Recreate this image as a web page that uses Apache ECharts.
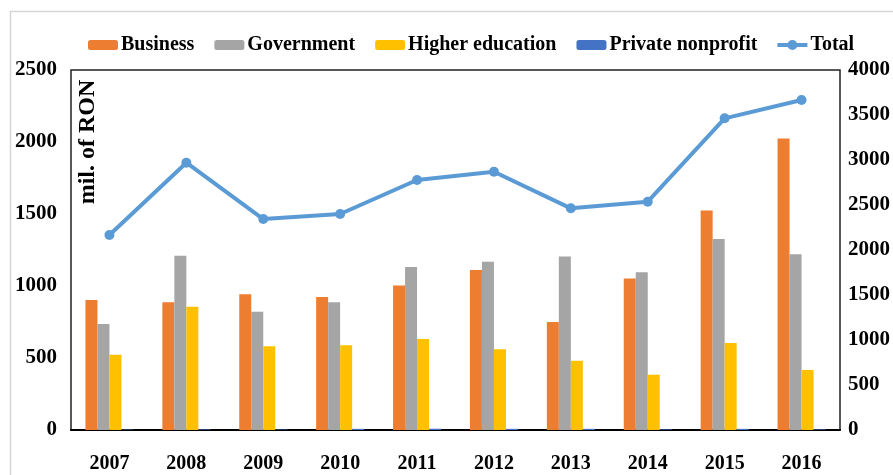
<!DOCTYPE html>
<html>
<head>
<meta charset="utf-8">
<script src="https://cdn.jsdelivr.net/npm/echarts@6/dist/echarts.min.js"></script>
<style>
  html, body { margin: 0; padding: 0; background: #fff; }
  #chart { width: 893px; height: 475px; }
</style>
</head>
<body>
<div id="chart"></div>
<script>
// years
const years = ["2007", "2008", "2009", "2010", "2011", "2012", "2013", "2014", "2015", "2016"];
// mil. of RON
const business = [903, 887, 942, 924, 1003, 1111, 750, 1052, 1524, 2024];
const government = [736, 1210, 822, 887, 1132, 1169, 1204, 1095, 1326, 1221];
const higherEducation = [523, 856, 581, 588, 632, 560, 481, 384, 604, 417];
const privateNonprofit = [3, 4, 3, 8, 9, 8, 8, 4, 8, 4];
const total = [2167, 2970, 2344, 2400, 2778, 2870, 2463, 2537, 3463, 3667];
const leftTicks = [0, 2500, 500];   // min, max, step
const rightTicks = [0, 4000, 500];

const font = '"Liberation Serif", "Times New Roman", serif';

const myChart = echarts.init(document.getElementById("chart"));

function barSeries(name, data, color) {
  return {
    name: name,
    type: "bar",
    barWidth: 12,
    barGap: "0%",
    itemStyle: { color: color },
    data: data,
  };
}

// plain numbers, no thousands separator
function plain(v) {
  return String(v);
}

const option = {
  animation: false,
  // legend on top
  legend: {
    left: 83,
    top: 30,
    itemWidth: 30,
    itemHeight: 10,
    itemGap: 20,
    textStyle: {
      fontFamily: font,
      fontWeight: "bold",
      fontSize: 20,
      color: "#000",
      padding: [0, 0, 0, -2],
    },
    data: [
      "Business",
      "Government",
      "Higher education",
      "Private nonprofit",
      {
        name: "Total",
        // thick line with a dot, like the series
        icon: "path://M0,3 L30,3 L30,7 L0,7 Z M10,5 A5,5 0 1,1 20,5 A5,5 0 1,1 10,5 Z",
      },
    ],
  },
  grid: {
    left: 71,
    right: 53,
    top: 70,
    bottom: 45,
    show: true,
    borderColor: "#222",
    borderWidth: 1.5,
  },
  xAxis: {
    type: "category",
    data: years,
    axisLine: { show: true, lineStyle: { color: "#000", width: 2 } },
    axisTick: { show: false },
    axisLabel: {
      margin: 24,
      fontFamily: font,
      fontWeight: "bold",
      fontSize: 20,
      color: "#000",
    },
  },
  yAxis: [
    {
      type: "value",
      min: leftTicks[0],
      max: leftTicks[1],
      interval: leftTicks[2],
      splitLine: { show: false },
      axisLine: { show: false },
      axisTick: { show: false },
      axisLabel: {
        margin: 14,
        fontFamily: font,
        fontWeight: "bold",
        fontSize: 21,
        color: "#000",
        formatter: plain,
      },
    },
    {
      type: "value",
      min: rightTicks[0],
      max: rightTicks[1],
      interval: rightTicks[2],
      splitLine: { show: false },
      axisLine: { show: false },
      axisTick: { show: false },
      axisLabel: {
        margin: 8,
        fontFamily: font,
        fontWeight: "bold",
        fontSize: 21,
        color: "#000",
        formatter: plain,
      },
    },
  ],
  // axis title inside the plot and the light outer frame
  graphic: [
    {
      type: "rect",
      left: 8,
      top: 9,
      shape: { width: 1000, height: 1000 },
      style: { fill: "none", stroke: "#d6d6d6", lineWidth: 1.5 },
      silent: true,
    },
    {
      type: "text",
      x: 88,
      y: 142,
      rotation: Math.PI / 2,
      style: {
        text: "mil. of RON",
        font: "bold 24px " + font,
        fill: "#000",
        align: "center",
        verticalAlign: "middle",
      },
    },
  ],
  series: [
    barSeries("Business", business, "#ed7d31"),
    barSeries("Government", government, "#a5a5a5"),
    barSeries("Higher education", higherEducation, "#ffc000"),
    barSeries("Private nonprofit", privateNonprofit, "#4472c4"),
    {
      name: "Total",
      type: "line",
      yAxisIndex: 1,
      symbol: "circle",
      symbolSize: 10,
      lineStyle: { width: 4, color: "#5b9bd5" },
      itemStyle: { color: "#5b9bd5" },
      data: total,
    },
  ],
};

myChart.setOption(option);
window.addEventListener("resize", function () {
  myChart.resize();
});
</script>
</body>
</html>
